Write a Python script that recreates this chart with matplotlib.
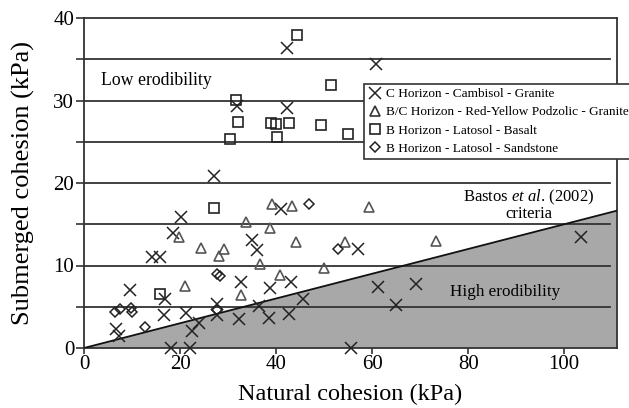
import numpy as np
import matplotlib
matplotlib.use("Agg")
import matplotlib.pyplot as plt
from matplotlib.lines import Line2D

plt.rcParams['font.family'] = ['Liberation Serif', 'DejaVu Serif']
plt.rcParams['mathtext.fontset'] = 'custom'
plt.rcParams['mathtext.rm'] = 'Liberation Serif'
plt.rcParams['mathtext.it'] = 'Liberation Serif:italic'

# C Horizon - Cambisol - Granite
cam_x = [42.3, 60.8, 31.9, 42.3, 27.1, 41.1, 20.3, 18.6, 103.6, 34.9, 57.0, 36.1, 14.2, 15.9,
         32.6, 43.1, 69.2, 9.6, 38.7, 61.3, 16.8, 45.7, 27.6, 65.0, 36.4, 16.6, 21.3, 27.6,
         42.7, 32.3, 38.5, 23.9, 22.5, 6.7, 7.3, 18.1, 22.1, 55.6]
cam_y = [36.4, 34.4, 29.3, 29.05, 20.9, 16.8, 15.9, 14.0, 13.4, 13.1, 12.0, 11.9, 11.0, 11.0,
         8.0, 8.0, 7.8, 7.0, 7.3, 7.4, 6.0, 6.0, 5.3, 5.2, 5.1, 4.0, 4.2, 4.0,
         4.1, 3.5, 3.6, 3.0, 2.1, 2.25, 1.4, 0.0, 0.0, 0.0]

# B/C Horizon - Red-Yellow Podzolic - Granite
pod_x = [39.2, 43.3, 59.3, 33.8, 38.8, 19.75, 44.1, 54.4, 73.3, 24.4, 29.2, 28.1, 36.6, 49.9,
         40.9, 21.0, 32.8]
pod_y = [17.5, 17.2, 17.1, 15.3, 14.5, 13.4, 12.9, 12.8, 13.0, 12.1, 12.0, 11.1, 10.2, 9.7,
         8.9, 7.5, 6.4]

# B Horizon - Latosol - Basalt
bas_x = [44.3, 51.5, 31.7, 32.0, 39.0, 39.9, 42.6, 49.4, 55.0, 40.1, 30.4, 27.0, 15.9]
bas_y = [37.9, 31.9, 30.1, 27.4, 27.3, 27.2, 27.3, 27.0, 26.0, 25.6, 25.3, 17.0, 6.5]

# B Horizon - Latosol - Sandstone
san_x = [46.8, 52.9, 27.6, 28.3, 27.6, 6.4, 7.6, 9.7, 9.9, 12.7]
san_y = [17.5, 12.0, 9.0, 8.7, 4.6, 4.4, 4.7, 4.8, 4.4, 2.5]

levels = [5, 10, 15, 20, 25, 30, 35]
slope = 0.15
xmax = 111

fig = plt.figure(figsize=(6.29, 4.08), dpi=100)
ax = fig.add_axes([84/629, 60/408, 533/629, 330/408])

ax.fill([0, xmax, xmax], [0, 0, slope*xmax], color='#a8a8a8', zorder=1)
ax.plot([0, xmax], [0, slope*xmax], color='#111111', lw=1.3, zorder=3)
for lv in levels:
    ax.plot([0, 109.5], [lv, lv], color='#333333', lw=1.3, zorder=2)

ax.plot(cam_x, cam_y, 'x', color='#222222', ms=8, mew=1.1, zorder=4, clip_on=False)
ax.plot(pod_x, pod_y, '^', mfc='none', mec='#555555', ms=6.5, mew=1.2, zorder=4)
ax.plot(bas_x, bas_y, 's', mfc='none', mec='#222222', ms=6.5, mew=1.2, zorder=4)
ax.plot(san_x, san_y, 'D', mfc='none', mec='#222222', ms=5, mew=1.1, zorder=4)

ax.text(3.5, 32.4, 'Low erodibility', fontsize=12.8, va='center', ha='left')
ax.text(92.7, 18.2, 'Bastos $\\mathit{et\\ al}$. (2002)', fontsize=12, va='center', ha='center')
ax.text(92.7, 16.2, 'criteria', fontsize=12, va='center', ha='center')
ax.text(87.8, 6.75, 'High erodibility', fontsize=12.3, va='center', ha='center')

ax.set_xlim(0, xmax)
ax.set_ylim(0, 40)
ax.set_xticks([0, 20, 40, 60, 80, 100])
ax.set_yticks([0, 10, 20, 30, 40])
ax.set_yticks([5, 15, 25, 35], minor=True)
ax.tick_params(axis='both', which='both', direction='out', color='#333333', width=1.2,
               labelsize=15, pad=1)
ax.tick_params(axis='y', which='both', length=6)
ax.tick_params(axis='x', which='both', length=4)
for sp in ax.spines.values():
    sp.set_linewidth(1.3)
    sp.set_color('#333333')

ax.set_xlabel('Natural cohesion (kPa)', fontsize=17.5, labelpad=7)
ax.set_ylabel('Submerged cohesion (kPa)', fontsize=19, labelpad=13)

handles = [
    Line2D([], [], ls='none', marker='x', color='#222222', ms=8, mew=1.1),
    Line2D([], [], ls='none', marker='^', mfc='none', mec='#333333', ms=6.5, mew=1.2),
    Line2D([], [], ls='none', marker='s', mfc='none', mec='#222222', ms=6.5, mew=1.2),
    Line2D([], [], ls='none', marker='D', mfc='none', mec='#222222', ms=5, mew=1.1),
]
labels = ['C Horizon - Cambisol - Granite',
          'B/C Horizon - Red-Yellow Podzolic - Granite',
          'B Horizon - Latosol - Basalt',
          'B Horizon - Latosol - Sandstone']
leg = fig.legend(handles, labels, loc='upper left', bbox_to_anchor=(364/629, 1 - 84/408),
                 fontsize=9.5, frameon=True, fancybox=False, framealpha=1,
                 edgecolor='#333333', borderpad=0.3, handlelength=1.0, handletextpad=0.35,
                 labelspacing=0.45, borderaxespad=0)
leg.get_frame().set_linewidth(1.2)

fig.savefig('out.png', dpi=100)
